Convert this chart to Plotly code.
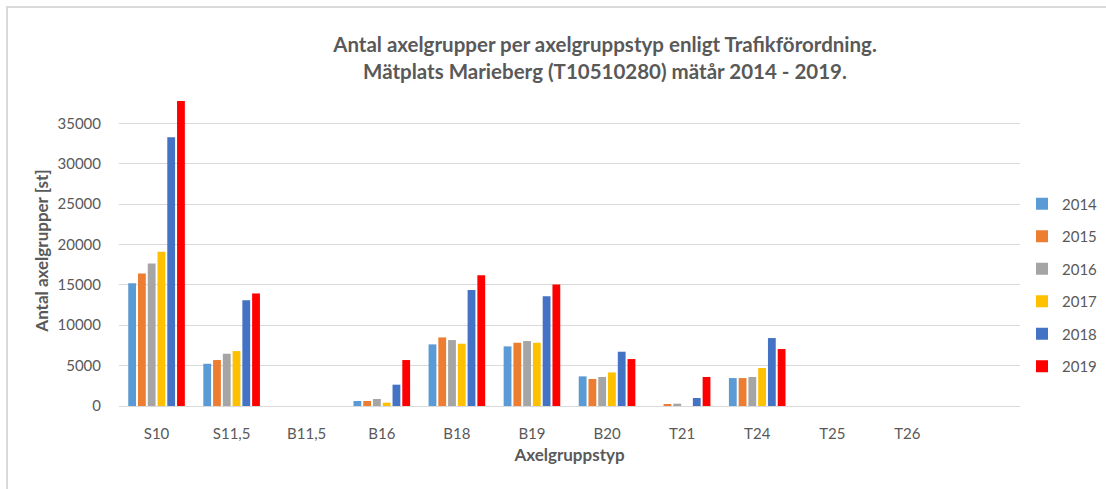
import plotly.graph_objects as go

categories = ["S10", "S11,5", "B11,5", "B16", "B18", "B19", "B20", "T21", "T24", "T25", "T26"]
years = ["2014", "2015", "2016", "2017", "2018", "2019"]

v2014 = [15200, 5230, 0, 620, 7630, 7380, 3670, 0, 3460, 0, 0]
v2015 = [16400, 5690, 0, 620, 8490, 7830, 3340, 200, 3460, 0, 0]
v2016 = [17650, 6470, 0, 870, 8160, 8040, 3590, 290, 3590, 0, 0]
v2017 = [19100, 6800, 0, 410, 7710, 7830, 4160, 0, 4700, 0, 0]
v2018 = [33270, 13100, 0, 2640, 14350, 13600, 6720, 990, 8410, 0, 0]
v2019 = [37760, 13930, 0, 5690, 16200, 15050, 5810, 3590, 7050, 0, 0]

series = [v2014, v2015, v2016, v2017, v2018, v2019]
colors = ["#5B9BD5", "#ED7D31", "#A5A5A5", "#FFC000", "#4472C4", "#FF0000"]

FONT = "Lato"
GREY = "#595959"

fig = go.Figure()
for year, vals, col in zip(years, series, colors):
    fig.add_trace(go.Bar(
        x=categories, y=vals, name=year,
        marker=dict(color=col, line=dict(width=0)),
        legendgroup=year,
    ))

# plot area in pixels: x 119..1020, y 95..406
W, H = 1106, 489
L, R, T, B = 119, 86, 95, 83
pw, ph = W - L - R, H - T - B

fig.update_layout(
    width=W, height=H,
    margin=dict(l=L, r=R, t=T, b=B, autoexpand=False),
    paper_bgcolor="white", plot_bgcolor="white",
    barmode="group", bargap=0.22, bargroupgap=0.2,
    font=dict(family=FONT, color=GREY, size=15),
    title=dict(
        text="<b>Antal axelgrupper per axelgruppstyp enligt Trafikförordning.<br>"
             "Mätplats Marieberg (T10510280) mätår 2014 - 2019.</b>",
        x=605 / W, xanchor="center", y=1 - 52 / H, yanchor="middle",
        font=dict(family=FONT, size=20.5, color=GREY),
    ),
    legend=dict(
        xref="container", yref="container",
        x=1022 / W, xanchor="left", y=1 - 285 / H, yanchor="middle",
        font=dict(family=FONT, size=15, color=GREY),
        tracegroupgap=10, itemwidth=30,
        bgcolor="rgba(0,0,0,0)",
    ),
    showlegend=True,
)

fig.update_xaxes(
    type="category", range=[-0.5, 11.5], automargin=False,
    showgrid=False, showline=True, linecolor="#D9D9D9", linewidth=1,
    ticks="", ticklabelstandoff=14,
    tickfont=dict(family=FONT, size=15, color=GREY),
    title=dict(text="<b>Axelgruppstyp</b>", font=dict(family=FONT, size=17, color=GREY), standoff=8),
)
fig.update_yaxes(
    range=[0, 38500], dtick=5000, tick0=0, tickformat="d", automargin=False,
    showgrid=True, gridcolor="#D9D9D9", gridwidth=1,
    zeroline=False, showline=False,
    ticks="", ticklabelstandoff=17,
    tickfont=dict(family=FONT, size=15, color=GREY),
    title=dict(text="<b>Antal axelgrupper [st]</b>", font=dict(family=FONT, size=17, color=GREY), standoff=4),
)

# outer chart frame
fig.add_shape(
    type="rect", xref="paper", yref="paper",
    x0=(7 - L) / pw, x1=(1110 - L) / pw,
    y0=-(B + 20) / ph, y1=(H - B - 7) / ph,
    line=dict(color="#D9D9D9", width=2), fillcolor="rgba(0,0,0,0)", layer="below",
)

# drop the default page margin so the figure sits at the window's corner
fig.write_html("out.html", config={"displayModeBar": False},
               post_script="document.body.style.margin='0';")
